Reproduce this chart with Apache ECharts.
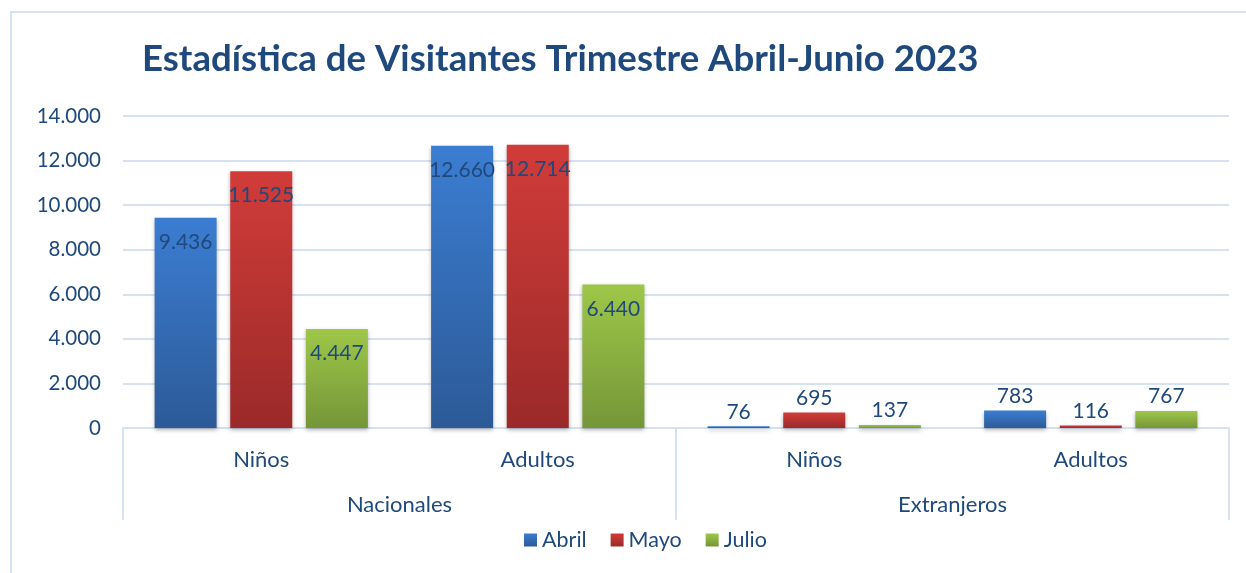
<!DOCTYPE html>
<html>
<head>
<meta charset="utf-8">
<script src="https://cdn.jsdelivr.net/npm/echarts@6/dist/echarts.min.js"></script>
<style>
  html, body { margin: 0; padding: 0; background: #fff; }
  #chart { width: 1246px; height: 573px; }
</style>
</head>
<body>
<div id="chart"></div>
<script>
  // datos
  const categorias = ['Niños', 'Adultos', 'Niños', 'Adultos'];
  const grupos = ['Nacionales', 'Extranjeros'];
  const meses = ['Abril', 'Mayo', 'Julio'];
  const abril = [9436, 12660, 76, 783];
  const mayo = [11525, 12714, 695, 116];
  const julio = [4447, 6440, 137, 767];

  const azulTexto = '#1F497D';
  const lineaClara = '#d6e2f2';

  // formato con punto de miles
  const fmt = v => String(v).replace(/\B(?=(\d{3})+(?!\d))/g, '.');

  const colores = [
    ['#3b7dd2', '#2c5a97'],
    ['#d13c39', '#9a2a29'],
    ['#9ec749', '#759638']
  ];

  function serie(nombre, valores, col) {
    return {
      name: nombre,
      type: 'bar',
      barWidth: 62,
      barGap: '22%',
      itemStyle: {
        color: new echarts.graphic.LinearGradient(0, 0, 0, 1, [
          { offset: 0, color: col[0] },
          { offset: 1, color: col[1] }
        ]),
        shadowColor: 'rgba(0,0,0,0.3)',
        shadowBlur: 4,
        shadowOffsetY: 2
      },
      data: valores.map(v => ({
        value: v,
        label: {
          show: true,
          position: v > 2000 ? 'insideTop' : 'top',
          distance: v > 2000 ? 14 : 4,
          formatter: p => fmt(p.value),
          color: azulTexto,
          fontFamily: 'Lato',
          fontSize: 21
        }
      }))
    };
  }

  const chart = echarts.init(document.getElementById('chart'));
  chart.setOption({
    backgroundColor: '#fff',
    animation: false,
    graphic: [{
      type: 'rect',
      shape: { x: 11, y: 12, width: 1260, height: 600 },
      style: { fill: 'none', stroke: '#d5e2f3', lineWidth: 2 },
      z: -10
    }],
    title: {
      text: 'Estadística de Visitantes Trimestre Abril-Junio 2023',
      left: 137,
      top: 36,
      textStyle: { color: azulTexto, fontFamily: 'Lato', fontWeight: 'bold', fontSize: 36.6 }
    },
    legend: {
      bottom: 17,
      left: 519,
      icon: 'rect',
      itemWidth: 13,
      itemHeight: 13,
      itemGap: 24,
      textStyle: { color: azulTexto, fontFamily: 'Lato', fontSize: 21.5 },
      data: meses
    },
    grid: { left: 123, right: 17, top: 116, bottom: 145, containLabel: false, outerBoundsMode: 'none' },
    xAxis: [
      {
        type: 'category',
        data: categorias,
        axisLine: { show: true, lineStyle: { color: lineaClara, width: 2 } },
        axisTick: { show: false },
        axisLabel: { color: azulTexto, fontFamily: 'Lato', fontSize: 22, margin: 21 }
      },
      {
        type: 'category',
        data: grupos,
        position: 'bottom',
        axisLine: { show: false },
        axisTick: { show: true, length: 92, lineStyle: { color: lineaClara, width: 2 } },
        axisLabel: { color: azulTexto, fontFamily: 'Lato', fontSize: 22, margin: 66 }
      }
    ],
    yAxis: {
      type: 'value',
      min: 0,
      max: 14000,
      interval: 2000,
      axisLine: { show: false },
      axisTick: { show: false },
      splitLine: { lineStyle: { color: lineaClara, width: 2 } },
      axisLabel: {
        color: azulTexto, fontFamily: 'Lato', fontSize: 20.5, margin: 22,
        formatter: v => fmt(v)
      }
    },
    series: [
      serie(meses[0], abril, colores[0]),
      serie(meses[1], mayo, colores[1]),
      serie(meses[2], julio, colores[2])
    ]
  });
</script>
</body>
</html>
